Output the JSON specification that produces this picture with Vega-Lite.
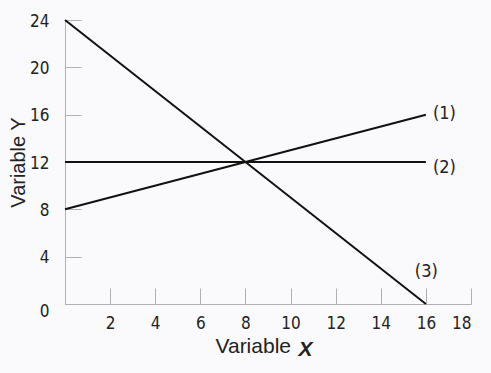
{
  "$schema": "https://vega.github.io/schema/vega-lite/v6.json",
  "width": 406,
  "height": 284,
  "autosize": {"type": "none"},
  "padding": {"left": 65, "top": 20, "right": 20, "bottom": 69},
  "background": "#fafafc",
  "config": {
    "view": {"stroke": null},
    "font": "Liberation Sans",
    "axis": {
      "grid": false,
      "domainColor": "#b0b0b0",
      "tickColor": "#b0b0b0",
      "labelFont": "Liberation Sans Narrow, DejaVu Sans Condensed, sans-serif",
      "labelFontSize": 17,
      "labelColor": "#222",
      "titleFont": "Liberation Sans",
      "titleFontSize": 20,
      "titleFontWeight": "normal",
      "titleColor": "#222"
    }
  },
  "datasets": {
    "lines": [
      {"series": "1", "x": 0, "y": 8},
      {"series": "1", "x": 16, "y": 16},
      {"series": "2", "x": 0, "y": 12},
      {"series": "2", "x": 16, "y": 12},
      {"series": "3", "x": 0, "y": 24},
      {"series": "3", "x": 16, "y": 0}
    ],
    "labels": [
      {"label": "(1)", "x": 16.31, "y": 16.06},
      {"label": "(2)", "x": 16.31, "y": 11.5},
      {"label": "(3)", "x": 15.51, "y": 2.7}
    ],
    "xtitle": [
      {"label": "X", "x": 10.35, "y": 0}
    ]
  },
  "layer": [
    {
      "data": {"name": "lines"},
      "mark": {"type": "line", "color": "#111", "strokeWidth": 2},
      "encoding": {
        "x": {
          "field": "x",
          "type": "quantitative",
          "scale": {"domain": [0, 18], "nice": false},
          "axis": {
            "values": [2, 4, 6, 8, 10, 12, 14, 16, 18],
            "tickSize": -16,
            "labelPadding": 27,
            "title": "Variable",
            "titleAnchor": "start",
            "titleX": 150,
            "titleAlign": "left",
            "titleFontSize": 21,
            "titlePadding": 4
          }
        },
        "y": {
          "field": "y",
          "type": "quantitative",
          "scale": {"domain": [0, 24], "nice": false},
          "axis": {
            "values": [0, 4, 8, 12, 16, 20, 24],
            "tickSize": -16,
            "labelPadding": 32,
            "labelOffset": {"condition": {"test": "datum.value === 0", "value": 7}, "value": 1},
            "title": "Variable  Y",
            "titleX": -37,
            "titleY": 142,
            "titleAlign": "center",
            "titleBaseline": "bottom",
            "titleAngle": -90
          }
        },
        "detail": {"field": "series"}
      }
    },
    {
      "data": {"name": "labels"},
      "mark": {"type": "text", "align": "left", "baseline": "middle", "fontSize": 18, "color": "#222", "font": "Liberation Sans Narrow, DejaVu Sans Condensed, sans-serif"},
      "encoding": {
        "x": {"field": "x", "type": "quantitative"},
        "y": {"field": "y", "type": "quantitative"},
        "text": {"field": "label"}
      }
    },
    {
      "data": {"name": "xtitle"},
      "mark": {"type": "text", "align": "left", "baseline": "alphabetic", "dy": 52, "fontSize": 21, "fontWeight": "bold", "fontStyle": "italic", "color": "#222", "font": "Liberation Sans"},
      "encoding": {
        "x": {"field": "x", "type": "quantitative"},
        "y": {"field": "y", "type": "quantitative"},
        "text": {"field": "label"}
      }
    }
  ]
}
